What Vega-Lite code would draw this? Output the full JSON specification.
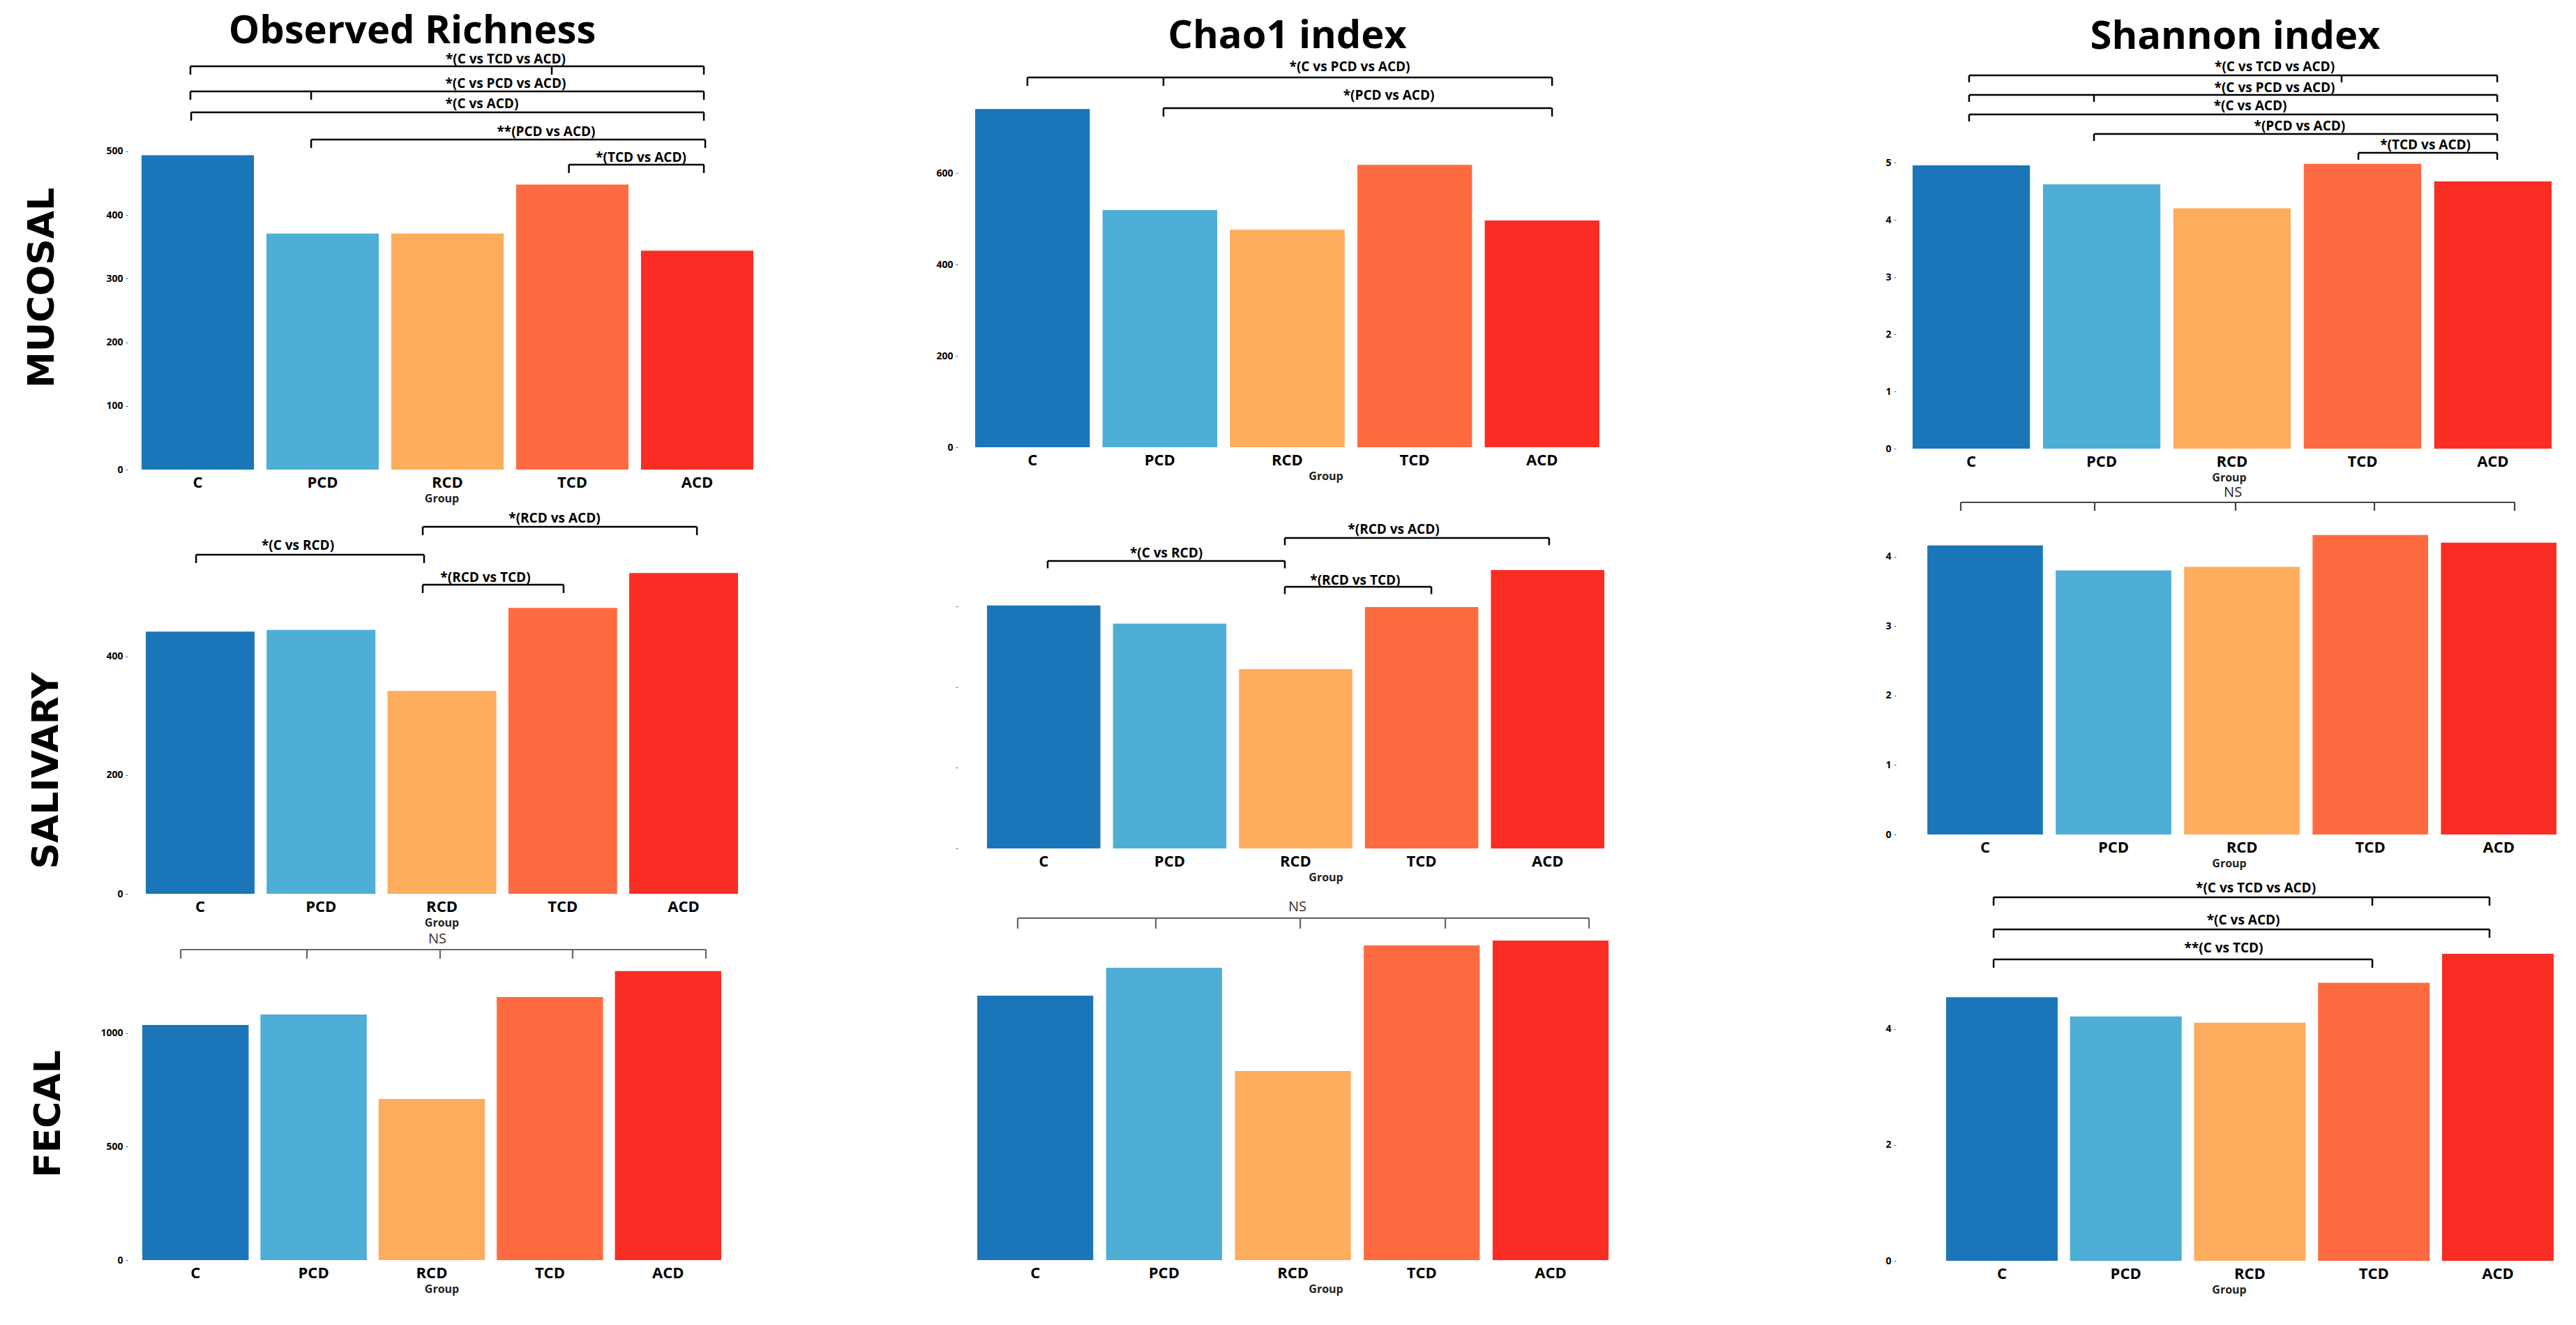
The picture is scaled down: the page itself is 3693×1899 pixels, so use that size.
{
  "$schema": "https://vega.github.io/schema/vega-lite/v6.json",
  "background": "white",
  "padding": {"left": 34, "top": 17, "right": 0, "bottom": 10},
  "columns": 3,
  "spacing": {"row": 27, "column": 290},
  "bounds": "flush",
  "align": "each",
  "config": {
    "view": {"stroke": null},
    "font": "Open Sans",
    "axis": {"grid": false, "domain": false},
    "axisX": {"ticks": false, "labelFontSize": 22, "labelFont": "Open Sans", "labelFontWeight": "bold", "labelColor": "black", "labelAngle": 0, "labelPadding": 8, "titleFont": "Open Sans", "titleFontSize": 16, "titleFontWeight": "bold", "titleColor": "#222", "titlePadding": 4},
    "axisY": {"tickSize": 3, "tickColor": "#666", "labelFontSize": 14, "labelFont": "Open Sans", "labelFontWeight": "bold", "labelColor": "black", "labelPadding": 4},
    "title": {"font": "Open Sans", "fontSize": 56, "fontWeight": "bold", "color": "black", "frame": "group", "anchor": "middle", "baseline": "alphabetic"}
  },
  "datasets": {
    "bars": [
      {"panel": "A", "group": "C", "value": 494}, {"panel": "A", "group": "PCD", "value": 371}, {"panel": "A", "group": "RCD", "value": 371}, {"panel": "A", "group": "TCD", "value": 448}, {"panel": "A", "group": "ACD", "value": 344},
      {"panel": "B", "group": "C", "value": 740}, {"panel": "B", "group": "PCD", "value": 519}, {"panel": "B", "group": "RCD", "value": 476}, {"panel": "B", "group": "TCD", "value": 618}, {"panel": "B", "group": "ACD", "value": 496},
      {"panel": "C", "group": "C", "value": 4.95}, {"panel": "C", "group": "PCD", "value": 4.62}, {"panel": "C", "group": "RCD", "value": 4.2}, {"panel": "C", "group": "TCD", "value": 4.98}, {"panel": "C", "group": "ACD", "value": 4.67},
      {"panel": "D", "group": "C", "value": 442}, {"panel": "D", "group": "PCD", "value": 445}, {"panel": "D", "group": "RCD", "value": 342}, {"panel": "D", "group": "TCD", "value": 482}, {"panel": "D", "group": "ACD", "value": 541},
      {"panel": "E", "group": "C", "value": 603}, {"panel": "E", "group": "PCD", "value": 558}, {"panel": "E", "group": "RCD", "value": 445}, {"panel": "E", "group": "TCD", "value": 599}, {"panel": "E", "group": "ACD", "value": 691},
      {"panel": "F", "group": "C", "value": 4.16}, {"panel": "F", "group": "PCD", "value": 3.8}, {"panel": "F", "group": "RCD", "value": 3.85}, {"panel": "F", "group": "TCD", "value": 4.31}, {"panel": "F", "group": "ACD", "value": 4.2},
      {"panel": "G", "group": "C", "value": 1037}, {"panel": "G", "group": "PCD", "value": 1083}, {"panel": "G", "group": "RCD", "value": 711}, {"panel": "G", "group": "TCD", "value": 1160}, {"panel": "G", "group": "ACD", "value": 1274},
      {"panel": "H", "group": "C", "value": 1307}, {"panel": "H", "group": "PCD", "value": 1445}, {"panel": "H", "group": "RCD", "value": 934}, {"panel": "H", "group": "TCD", "value": 1555}, {"panel": "H", "group": "ACD", "value": 1579},
      {"panel": "I", "group": "C", "value": 4.55}, {"panel": "I", "group": "PCD", "value": 4.22}, {"panel": "I", "group": "RCD", "value": 4.11}, {"panel": "I", "group": "TCD", "value": 4.8}, {"panel": "I", "group": "ACD", "value": 5.3}
    ],
    "brackets": [
      {"panel": "A", "label": "*(C vs TCD vs ACD)", "from": 0.941, "to": 5.053, "level": 633.8, "tx": 3.466, "ty": 644.7},
      {"panel": "A", "label": "*(C vs PCD vs ACD)", "from": 0.941, "to": 5.053, "level": 594.3, "tx": 3.466, "ty": 606.4},
      {"panel": "A", "label": "*(C vs ACD)", "from": 0.947, "to": 5.053, "level": 561.4, "tx": 3.276, "ty": 574.6},
      {"panel": "A", "label": "**(PCD vs ACD)", "from": 1.908, "to": 5.064, "level": 518.6, "tx": 3.79, "ty": 530.7},
      {"panel": "A", "label": "*(TCD vs ACD)", "from": 3.972, "to": 5.053, "level": 479.2, "tx": 4.55, "ty": 490.1},
      {"panel": "B", "label": "*(C vs PCD vs ACD)", "from": 0.96, "to": 5.078, "level": 809.2, "tx": 3.49, "ty": 832.8},
      {"panel": "B", "label": "*(PCD vs ACD)", "from": 2.028, "to": 5.078, "level": 742.0, "tx": 3.797, "ty": 769.5},
      {"panel": "C", "label": "*(C vs TCD vs ACD)", "from": 0.983, "to": 5.034, "level": 6.524, "tx": 3.327, "ty": 6.671},
      {"panel": "C", "label": "*(C vs PCD vs ACD)", "from": 0.983, "to": 5.034, "level": 6.183, "tx": 3.327, "ty": 6.305},
      {"panel": "C", "label": "*(C vs ACD)", "from": 0.983, "to": 5.034, "level": 5.841, "tx": 3.14, "ty": 5.988},
      {"panel": "C", "label": "*(PCD vs ACD)", "from": 1.941, "to": 5.034, "level": 5.5, "tx": 3.519, "ty": 5.634},
      {"panel": "C", "label": "*(TCD vs ACD)", "from": 3.969, "to": 5.034, "level": 5.171, "tx": 4.483, "ty": 5.305},
      {"panel": "D", "label": "*(RCD vs ACD)", "from": 2.841, "to": 5.109, "level": 618.8, "tx": 3.931, "ty": 632.9},
      {"panel": "D", "label": "*(C vs RCD)", "from": 0.966, "to": 2.852, "level": 571.8, "tx": 1.808, "ty": 587.1},
      {"panel": "D", "label": "*(RCD vs TCD)", "from": 2.841, "to": 4.006, "level": 521.2, "tx": 3.36, "ty": 532.9},
      {"panel": "E", "label": "*(RCD vs ACD)", "from": 2.914, "to": 5.012, "level": 770.6, "tx": 3.778, "ty": 791.3},
      {"panel": "E", "label": "*(C vs RCD)", "from": 1.031, "to": 2.914, "level": 713.4, "tx": 1.973, "ty": 732.5},
      {"panel": "E", "label": "*(RCD vs TCD)", "from": 2.914, "to": 4.077, "level": 649.4, "tx": 3.473, "ty": 664.9},
      {"panel": "F", "label": "NS", "from": 0.811, "to": 5.124, "level": 4.779, "tx": 2.93, "ty": 4.92},
      {"panel": "G", "label": "NS", "from": 0.875, "to": 5.32, "level": 1369, "tx": 3.047, "ty": 1415},
      {"panel": "H", "label": "NS", "from": 0.864, "to": 5.298, "level": 1690, "tx": 3.035, "ty": 1745},
      {"panel": "I", "label": "*(C vs TCD vs ACD)", "from": 0.933, "to": 4.932, "level": 6.277, "tx": 3.048, "ty": 6.434},
      {"panel": "I", "label": "*(C vs ACD)", "from": 0.933, "to": 4.932, "level": 5.723, "tx": 2.947, "ty": 5.88},
      {"panel": "I", "label": "**(C vs TCD)", "from": 0.933, "to": 3.987, "level": 5.205, "tx": 2.789, "ty": 5.398}
    ],
    "ticks": [
      {"panel": "A", "at": 0.941, "level": 633.8}, {"panel": "A", "at": 5.053, "level": 633.8}, {"panel": "A", "at": 3.835, "level": 633.8},
      {"panel": "A", "at": 0.941, "level": 594.3}, {"panel": "A", "at": 5.053, "level": 594.3}, {"panel": "A", "at": 1.908, "level": 594.3},
      {"panel": "A", "at": 0.947, "level": 561.4}, {"panel": "A", "at": 5.053, "level": 561.4},
      {"panel": "A", "at": 1.908, "level": 518.6}, {"panel": "A", "at": 5.064, "level": 518.6},
      {"panel": "A", "at": 3.972, "level": 479.2}, {"panel": "A", "at": 5.053, "level": 479.2},
      {"panel": "B", "at": 0.96, "level": 809.2}, {"panel": "B", "at": 5.078, "level": 809.2}, {"panel": "B", "at": 2.028, "level": 809.2},
      {"panel": "B", "at": 2.028, "level": 742.0}, {"panel": "B", "at": 5.078, "level": 742.0},
      {"panel": "C", "at": 0.983, "level": 6.524}, {"panel": "C", "at": 5.034, "level": 6.524}, {"panel": "C", "at": 3.84, "level": 6.524},
      {"panel": "C", "at": 0.983, "level": 6.183}, {"panel": "C", "at": 5.034, "level": 6.183}, {"panel": "C", "at": 1.941, "level": 6.183},
      {"panel": "C", "at": 0.983, "level": 5.841}, {"panel": "C", "at": 5.034, "level": 5.841},
      {"panel": "C", "at": 1.941, "level": 5.5}, {"panel": "C", "at": 5.034, "level": 5.5},
      {"panel": "C", "at": 3.969, "level": 5.171}, {"panel": "C", "at": 5.034, "level": 5.171},
      {"panel": "D", "at": 2.841, "level": 618.8}, {"panel": "D", "at": 5.109, "level": 618.8},
      {"panel": "D", "at": 0.966, "level": 571.8}, {"panel": "D", "at": 2.852, "level": 571.8},
      {"panel": "D", "at": 2.841, "level": 521.2}, {"panel": "D", "at": 4.006, "level": 521.2},
      {"panel": "E", "at": 2.914, "level": 770.6}, {"panel": "E", "at": 5.012, "level": 770.6},
      {"panel": "E", "at": 1.031, "level": 713.4}, {"panel": "E", "at": 2.914, "level": 713.4},
      {"panel": "E", "at": 2.914, "level": 649.4}, {"panel": "E", "at": 4.077, "level": 649.4},
      {"panel": "F", "at": 0.811, "level": 4.779}, {"panel": "F", "at": 1.854, "level": 4.779}, {"panel": "F", "at": 2.951, "level": 4.779}, {"panel": "F", "at": 4.032, "level": 4.779}, {"panel": "F", "at": 5.124, "level": 4.779},
      {"panel": "G", "at": 0.875, "level": 1369}, {"panel": "G", "at": 1.943, "level": 1369}, {"panel": "G", "at": 3.07, "level": 1369}, {"panel": "G", "at": 4.192, "level": 1369}, {"panel": "G", "at": 5.32, "level": 1369},
      {"panel": "H", "at": 0.864, "level": 1690}, {"panel": "H", "at": 1.936, "level": 1690}, {"panel": "H", "at": 3.057, "level": 1690}, {"panel": "H", "at": 4.183, "level": 1690}, {"panel": "H", "at": 5.298, "level": 1690},
      {"panel": "I", "at": 0.933, "level": 6.277}, {"panel": "I", "at": 4.932, "level": 6.277}, {"panel": "I", "at": 3.987, "level": 6.277},
      {"panel": "I", "at": 0.933, "level": 5.723}, {"panel": "I", "at": 4.932, "level": 5.723},
      {"panel": "I", "at": 0.933, "level": 5.205}, {"panel": "I", "at": 3.987, "level": 5.205}
    ]
  },
  "concat": [
    {
      "width": 900, "height": 593,
      "title": {"text": "Observed Richness", "dx": -42, "offset": 2},
      "resolve": {"scale": {"x": "independent"}, "axis": {"x": "independent", "y": "independent"}},
      "layer": [
        {"data": {"name": "bars"}, "transform": [{"filter": "datum.panel === 'A'"}], "mark": {"type": "bar"},
         "encoding": {
           "x": {"field": "group", "type": "nominal", "sort": ["C", "PCD", "RCD", "TCD", "ACD"], "scale": {"paddingInner": 0.1, "paddingOuter": 0.064, "align": 0.87}, "axis": {"title": "Group"}},
           "y": {"field": "value", "type": "quantitative", "scale": {"domain": [0, 650.2], "nice": false}, "axis": {"values": [0, 100, 200, 300, 400, 500], "title": "MUCOSAL", "titleFont": "DejaVu Sans", "titleFontSize": 52, "titleFontWeight": "bold", "titleColor": "black", "titleAngle": 270, "titleAlign": "center", "titleBaseline": "middle", "titleX": -123, "titleY": 332}},
           "color": {"field": "group", "type": "nominal", "scale": {"domain": ["C", "PCD", "RCD", "TCD", "ACD"], "range": ["#1a76b9", "#4eaed5", "#feac5d", "#fe6b40", "#f92d24"]}, "legend": null}
         }},
        {"data": {"name": "brackets"}, "transform": [{"filter": "datum.panel === 'A'"}], "mark": {"type": "rule", "color": "black", "strokeWidth": 2.5},
         "encoding": {
           "x": {"field": "from", "type": "quantitative", "scale": {"domain": [0.4383, 5.466], "nice": false, "zero": false}, "axis": null},
           "x2": {"field": "to"},
           "y": {"field": "level", "type": "quantitative", "scale": {"domain": [0, 650.2], "nice": false}, "axis": null}
         }},
        {"data": {"name": "ticks"}, "transform": [{"filter": "datum.panel === 'A'"}], "mark": {"type": "point", "shape": "M0,0L0,2", "size": 144, "filled": false, "color": "black", "strokeWidth": 2.5, "opacity": 1},
         "encoding": {
           "x": {"field": "at", "type": "quantitative", "scale": {"domain": [0.4383, 5.466], "nice": false, "zero": false}, "axis": null},
           "y": {"field": "level", "type": "quantitative", "scale": {"domain": [0, 650.2], "nice": false}, "axis": null}
         }},
        {"data": {"name": "brackets"}, "transform": [{"filter": "datum.panel === 'A'"}], "mark": {"type": "text", "font": "Open Sans", "fontWeight": "bold", "fontSize": 19, "color": "black", "baseline": "middle", "align": "center"},
         "encoding": {
           "x": {"field": "tx", "type": "quantitative", "scale": {"domain": [0.4383, 5.466], "nice": false, "zero": false}, "axis": null},
           "y": {"field": "ty", "type": "quantitative", "scale": {"domain": [0, 650.2], "nice": false}, "axis": null},
           "text": {"field": "label"}
         }}
      ]
    },
    {
      "width": 1055, "height": 561,
      "title": {"text": "Chao1 index", "dx": -55, "offset": -1},
      "resolve": {"scale": {"x": "independent"}, "axis": {"x": "independent", "y": "independent"}},
      "layer": [
        {"data": {"name": "bars"}, "transform": [{"filter": "datum.panel === 'B'"}], "mark": {"type": "bar"},
         "encoding": {
           "x": {"field": "group", "type": "nominal", "sort": ["C", "PCD", "RCD", "TCD", "ACD"], "scale": {"paddingInner": 0.1, "paddingOuter": 0.438, "align": 0.156}, "axis": {"title": "Group"}},
           "y": {"field": "value", "type": "quantitative", "scale": {"domain": [0, 856.5], "nice": false}, "axis": {"values": [0, 200, 400, 600], "title": null}},
           "color": {"field": "group", "type": "nominal", "scale": {"domain": ["C", "PCD", "RCD", "TCD", "ACD"], "range": ["#1a76b9", "#4eaed5", "#feac5d", "#fe6b40", "#f92d24"]}, "legend": null}
         }},
        {"data": {"name": "brackets"}, "transform": [{"filter": "datum.panel === 'B'"}], "mark": {"type": "rule", "color": "black", "strokeWidth": 2.5},
         "encoding": {
           "x": {"field": "from", "type": "quantitative", "scale": {"domain": [0.413, 6.189], "nice": false, "zero": false}, "axis": null},
           "x2": {"field": "to"},
           "y": {"field": "level", "type": "quantitative", "scale": {"domain": [0, 856.5], "nice": false}, "axis": null}
         }},
        {"data": {"name": "ticks"}, "transform": [{"filter": "datum.panel === 'B'"}], "mark": {"type": "point", "shape": "M0,0L0,2", "size": 144, "filled": false, "color": "black", "strokeWidth": 2.5, "opacity": 1},
         "encoding": {
           "x": {"field": "at", "type": "quantitative", "scale": {"domain": [0.413, 6.189], "nice": false, "zero": false}, "axis": null},
           "y": {"field": "level", "type": "quantitative", "scale": {"domain": [0, 856.5], "nice": false}, "axis": null}
         }},
        {"data": {"name": "brackets"}, "transform": [{"filter": "datum.panel === 'B'"}], "mark": {"type": "text", "font": "Open Sans", "fontWeight": "bold", "fontSize": 19, "color": "black", "baseline": "middle", "align": "center"},
         "encoding": {
           "x": {"field": "tx", "type": "quantitative", "scale": {"domain": [0.413, 6.189], "nice": false, "zero": false}, "axis": null},
           "y": {"field": "ty", "type": "quantitative", "scale": {"domain": [0, 856.5], "nice": false}, "axis": null},
           "text": {"field": "label"}
         }}
      ]
    },
    {
      "width": 955, "height": 563,
      "title": {"text": "Shannon index", "dx": 9, "offset": -2},
      "resolve": {"scale": {"x": "independent"}, "axis": {"x": "independent", "y": "independent"}},
      "layer": [
        {"data": {"name": "bars"}, "transform": [{"filter": "datum.panel === 'C'"}], "mark": {"type": "bar"},
         "encoding": {
           "x": {"field": "group", "type": "nominal", "sort": ["C", "PCD", "RCD", "TCD", "ACD"], "scale": {"paddingInner": 0.1, "paddingOuter": 0.104, "align": 0.615}, "axis": {"title": "Group"}},
           "y": {"field": "value", "type": "quantitative", "scale": {"domain": [0, 6.866], "nice": false}, "axis": {"values": [0, 1, 2, 3, 4, 5], "title": null}},
           "color": {"field": "group", "type": "nominal", "scale": {"domain": ["C", "PCD", "RCD", "TCD", "ACD"], "range": ["#1a76b9", "#4eaed5", "#feac5d", "#fe6b40", "#f92d24"]}, "legend": null}
         }},
        {"data": {"name": "brackets"}, "transform": [{"filter": "datum.panel === 'C'"}], "mark": {"type": "rule", "color": "black", "strokeWidth": 2.5},
         "encoding": {
           "x": {"field": "from", "type": "quantitative", "scale": {"domain": [0.4216, 5.531], "nice": false, "zero": false}, "axis": null},
           "x2": {"field": "to"},
           "y": {"field": "level", "type": "quantitative", "scale": {"domain": [0, 6.866], "nice": false}, "axis": null}
         }},
        {"data": {"name": "ticks"}, "transform": [{"filter": "datum.panel === 'C'"}], "mark": {"type": "point", "shape": "M0,0L0,2", "size": 100, "filled": false, "color": "black", "strokeWidth": 2.5, "opacity": 1},
         "encoding": {
           "x": {"field": "at", "type": "quantitative", "scale": {"domain": [0.4216, 5.531], "nice": false, "zero": false}, "axis": null},
           "y": {"field": "level", "type": "quantitative", "scale": {"domain": [0, 6.866], "nice": false}, "axis": null}
         }},
        {"data": {"name": "brackets"}, "transform": [{"filter": "datum.panel === 'C'"}], "mark": {"type": "text", "font": "Open Sans", "fontWeight": "bold", "fontSize": 19, "color": "black", "baseline": "middle", "align": "center"},
         "encoding": {
           "x": {"field": "tx", "type": "quantitative", "scale": {"domain": [0.4216, 5.531], "nice": false, "zero": false}, "axis": null},
           "y": {"field": "ty", "type": "quantitative", "scale": {"domain": [0, 6.866], "nice": false}, "axis": null},
           "text": {"field": "label"}
         }}
      ]
    },
    {
      "width": 900, "height": 581,
      "resolve": {"scale": {"x": "independent"}, "axis": {"x": "independent", "y": "independent"}},
      "layer": [
        {"data": {"name": "bars"}, "transform": [{"filter": "datum.panel === 'D'"}], "mark": {"type": "bar"},
         "encoding": {
           "x": {"field": "group", "type": "nominal", "sort": ["C", "PCD", "RCD", "TCD", "ACD"], "scale": {"paddingInner": 0.1, "paddingOuter": 0.147, "align": 0.51}, "axis": {"title": "Group"}},
           "y": {"field": "value", "type": "quantitative", "scale": {"domain": [0, 683.5], "nice": false}, "axis": {"values": [0, 200, 400], "title": "SALIVARY", "titleFont": "DejaVu Sans", "titleFontSize": 52, "titleFontWeight": "bold", "titleColor": "black", "titleAngle": 270, "titleAlign": "center", "titleBaseline": "middle", "titleX": -117, "titleY": 404}},
           "color": {"field": "group", "type": "nominal", "scale": {"domain": ["C", "PCD", "RCD", "TCD", "ACD"], "range": ["#1a76b9", "#4eaed5", "#feac5d", "#fe6b40", "#f92d24"]}, "legend": null}
         }},
        {"data": {"name": "brackets"}, "transform": [{"filter": "datum.panel === 'D'"}], "mark": {"type": "rule", "color": "black", "strokeWidth": 2.5},
         "encoding": {
           "x": {"field": "from", "type": "quantitative", "scale": {"domain": [0.4, 5.593], "nice": false, "zero": false}, "axis": null},
           "x2": {"field": "to"},
           "y": {"field": "level", "type": "quantitative", "scale": {"domain": [0, 683.5], "nice": false}, "axis": null}
         }},
        {"data": {"name": "ticks"}, "transform": [{"filter": "datum.panel === 'D'"}], "mark": {"type": "point", "shape": "M0,0L0,2", "size": 144, "filled": false, "color": "black", "strokeWidth": 2.5, "opacity": 1},
         "encoding": {
           "x": {"field": "at", "type": "quantitative", "scale": {"domain": [0.4, 5.593], "nice": false, "zero": false}, "axis": null},
           "y": {"field": "level", "type": "quantitative", "scale": {"domain": [0, 683.5], "nice": false}, "axis": null}
         }},
        {"data": {"name": "brackets"}, "transform": [{"filter": "datum.panel === 'D'"}], "mark": {"type": "text", "font": "Open Sans", "fontWeight": "bold", "fontSize": 19, "color": "black", "baseline": "middle", "align": "center"},
         "encoding": {
           "x": {"field": "tx", "type": "quantitative", "scale": {"domain": [0.4, 5.593], "nice": false, "zero": false}, "axis": null},
           "y": {"field": "ty", "type": "quantitative", "scale": {"domain": [0, 683.5], "nice": false}, "axis": null},
           "text": {"field": "label"}
         }}
      ]
    },
    {
      "width": 1055, "height": 516,
      "resolve": {"scale": {"x": "independent"}, "axis": {"x": "independent", "y": "independent"}},
      "layer": [
        {"data": {"name": "bars"}, "transform": [{"filter": "datum.panel === 'E'"}], "mark": {"type": "bar"},
         "encoding": {
           "x": {"field": "group", "type": "nominal", "sort": ["C", "PCD", "RCD", "TCD", "ACD"], "scale": {"paddingInner": 0.1, "paddingOuter": 0.4707, "align": 0.247}, "axis": {"title": "Group"}},
           "y": {"field": "value", "type": "quantitative", "scale": {"domain": [0, 893.5], "nice": false}, "axis": {"values": [0, 200, 400, 600], "labels": false, "title": null}},
           "color": {"field": "group", "type": "nominal", "scale": {"domain": ["C", "PCD", "RCD", "TCD", "ACD"], "range": ["#1a76b9", "#4eaed5", "#feac5d", "#fe6b40", "#f92d24"]}, "legend": null}
         }},
        {"data": {"name": "brackets"}, "transform": [{"filter": "datum.panel === 'E'"}], "mark": {"type": "rule", "color": "black", "strokeWidth": 2.5},
         "encoding": {
           "x": {"field": "from", "type": "quantitative", "scale": {"domain": [0.317, 6.159], "nice": false, "zero": false}, "axis": null},
           "x2": {"field": "to"},
           "y": {"field": "level", "type": "quantitative", "scale": {"domain": [0, 893.5], "nice": false}, "axis": null}
         }},
        {"data": {"name": "ticks"}, "transform": [{"filter": "datum.panel === 'E'"}], "mark": {"type": "point", "shape": "M0,0L0,2", "size": 110, "filled": false, "color": "black", "strokeWidth": 2.5, "opacity": 1},
         "encoding": {
           "x": {"field": "at", "type": "quantitative", "scale": {"domain": [0.317, 6.159], "nice": false, "zero": false}, "axis": null},
           "y": {"field": "level", "type": "quantitative", "scale": {"domain": [0, 893.5], "nice": false}, "axis": null}
         }},
        {"data": {"name": "brackets"}, "transform": [{"filter": "datum.panel === 'E'"}], "mark": {"type": "text", "font": "Open Sans", "fontWeight": "bold", "fontSize": 19, "color": "black", "baseline": "middle", "align": "center"},
         "encoding": {
           "x": {"field": "tx", "type": "quantitative", "scale": {"domain": [0.317, 6.159], "nice": false, "zero": false}, "axis": null},
           "y": {"field": "ty", "type": "quantitative", "scale": {"domain": [0, 893.5], "nice": false}, "axis": null},
           "text": {"field": "label"}
         }}
      ]
    },
    {
      "width": 955, "height": 496,
      "resolve": {"scale": {"x": "independent"}, "axis": {"x": "independent", "y": "independent"}},
      "layer": [
        {"data": {"name": "bars"}, "transform": [{"filter": "datum.panel === 'F'"}], "mark": {"type": "bar"},
         "encoding": {
           "x": {"field": "group", "type": "nominal", "sort": ["C", "PCD", "RCD", "TCD", "ACD"], "scale": {"paddingInner": 0.1, "paddingOuter": 0.144, "align": 0.85}, "axis": {"title": "Group"}},
           "y": {"field": "value", "type": "quantitative", "scale": {"domain": [0, 4.98], "nice": false}, "axis": {"values": [0, 1, 2, 3, 4], "title": null}},
           "color": {"field": "group", "type": "nominal", "scale": {"domain": ["C", "PCD", "RCD", "TCD", "ACD"], "range": ["#1a76b9", "#4eaed5", "#feac5d", "#fe6b40", "#f92d24"]}, "legend": null}
         }},
        {"data": {"name": "brackets"}, "transform": [{"filter": "datum.panel === 'F'"}], "mark": {"type": "rule", "color": "#444", "strokeWidth": 2.2},
         "encoding": {
           "x": {"field": "from", "type": "quantitative", "scale": {"domain": [0.306, 5.493], "nice": false, "zero": false}, "axis": null},
           "x2": {"field": "to"},
           "y": {"field": "level", "type": "quantitative", "scale": {"domain": [0, 4.98], "nice": false}, "axis": null}
         }},
        {"data": {"name": "ticks"}, "transform": [{"filter": "datum.panel === 'F'"}], "mark": {"type": "point", "shape": "M0,0L0,2", "size": 144, "filled": false, "color": "#444", "strokeWidth": 2.2, "opacity": 1},
         "encoding": {
           "x": {"field": "at", "type": "quantitative", "scale": {"domain": [0.306, 5.493], "nice": false, "zero": false}, "axis": null},
           "y": {"field": "level", "type": "quantitative", "scale": {"domain": [0, 4.98], "nice": false}, "axis": null}
         }},
        {"data": {"name": "brackets"}, "transform": [{"filter": "datum.panel === 'F'"}], "mark": {"type": "text", "font": "Open Sans", "fontWeight": "normal", "fontSize": 20, "color": "#222", "baseline": "middle", "align": "center"},
         "encoding": {
           "x": {"field": "tx", "type": "quantitative", "scale": {"domain": [0.306, 5.493], "nice": false, "zero": false}, "axis": null},
           "y": {"field": "ty", "type": "quantitative", "scale": {"domain": [0, 4.98], "nice": false}, "axis": null},
           "text": {"field": "label"}
         }}
      ]
    },
    {
      "width": 900, "height": 498,
      "resolve": {"scale": {"x": "independent"}, "axis": {"x": "independent", "y": "independent"}},
      "layer": [
        {"data": {"name": "bars"}, "transform": [{"filter": "datum.panel === 'G'"}], "mark": {"type": "bar"},
         "encoding": {
           "x": {"field": "group", "type": "nominal", "sort": ["C", "PCD", "RCD", "TCD", "ACD"], "scale": {"paddingInner": 0.1, "paddingOuter": 0.2066, "align": 0.3}, "axis": {"title": "Group"}},
           "y": {"field": "value", "type": "quantitative", "scale": {"domain": [0, 1532], "nice": false}, "axis": {"values": [0, 500, 1000], "format": "d", "title": "FECAL", "titleFont": "DejaVu Sans", "titleFontSize": 52, "titleFontWeight": "bold", "titleColor": "black", "titleAngle": 270, "titleAlign": "center", "titleBaseline": "middle", "titleX": -114, "titleY": 288}},
           "color": {"field": "group", "type": "nominal", "scale": {"domain": ["C", "PCD", "RCD", "TCD", "ACD"], "range": ["#1a76b9", "#4eaed5", "#feac5d", "#fe6b40", "#f92d24"]}, "legend": null}
         }},
        {"data": {"name": "brackets"}, "transform": [{"filter": "datum.panel === 'G'"}], "mark": {"type": "rule", "color": "#666", "strokeWidth": 2.2},
         "encoding": {
           "x": {"field": "from", "type": "quantitative", "scale": {"domain": [0.426, 5.739], "nice": false, "zero": false}, "axis": null},
           "x2": {"field": "to"},
           "y": {"field": "level", "type": "quantitative", "scale": {"domain": [0, 1532], "nice": false}, "axis": null}
         }},
        {"data": {"name": "ticks"}, "transform": [{"filter": "datum.panel === 'G'"}], "mark": {"type": "point", "shape": "M0,0L0,2", "size": 169, "filled": false, "color": "#666", "strokeWidth": 2.2, "opacity": 1},
         "encoding": {
           "x": {"field": "at", "type": "quantitative", "scale": {"domain": [0.426, 5.739], "nice": false, "zero": false}, "axis": null},
           "y": {"field": "level", "type": "quantitative", "scale": {"domain": [0, 1532], "nice": false}, "axis": null}
         }},
        {"data": {"name": "brackets"}, "transform": [{"filter": "datum.panel === 'G'"}], "mark": {"type": "text", "font": "Open Sans", "fontWeight": "normal", "fontSize": 20, "color": "#333", "baseline": "middle", "align": "center"},
         "encoding": {
           "x": {"field": "tx", "type": "quantitative", "scale": {"domain": [0.426, 5.739], "nice": false, "zero": false}, "axis": null},
           "y": {"field": "ty", "type": "quantitative", "scale": {"domain": [0, 1532], "nice": false}, "axis": null},
           "text": {"field": "label"}
         }}
      ]
    },
    {
      "width": 1055, "height": 498,
      "resolve": {"scale": {"x": "independent"}, "axis": {"x": "independent", "y": "independent"}},
      "layer": [
        {"data": {"name": "bars"}, "transform": [{"filter": "datum.panel === 'H'"}], "mark": {"type": "bar"},
         "encoding": {
           "x": {"field": "group", "type": "nominal", "sort": ["C", "PCD", "RCD", "TCD", "ACD"], "scale": {"paddingInner": 0.1, "paddingOuter": 0.406, "align": 0.187}, "axis": {"title": "Group"}},
           "y": {"field": "value", "type": "quantitative", "scale": {"domain": [0, 1717], "nice": false}, "axis": null},
           "color": {"field": "group", "type": "nominal", "scale": {"domain": ["C", "PCD", "RCD", "TCD", "ACD"], "range": ["#1a76b9", "#4eaed5", "#feac5d", "#fe6b40", "#f92d24"]}, "legend": null}
         }},
        {"data": {"name": "brackets"}, "transform": [{"filter": "datum.panel === 'H'"}], "mark": {"type": "rule", "color": "#666", "strokeWidth": 2.2},
         "encoding": {
           "x": {"field": "from", "type": "quantitative", "scale": {"domain": [0.3985, 6.11], "nice": false, "zero": false}, "axis": null},
           "x2": {"field": "to"},
           "y": {"field": "level", "type": "quantitative", "scale": {"domain": [0, 1717], "nice": false}, "axis": null}
         }},
        {"data": {"name": "ticks"}, "transform": [{"filter": "datum.panel === 'H'"}], "mark": {"type": "point", "shape": "M0,0L0,2", "size": 225, "filled": false, "color": "#666", "strokeWidth": 2.2, "opacity": 1},
         "encoding": {
           "x": {"field": "at", "type": "quantitative", "scale": {"domain": [0.3985, 6.11], "nice": false, "zero": false}, "axis": null},
           "y": {"field": "level", "type": "quantitative", "scale": {"domain": [0, 1717], "nice": false}, "axis": null}
         }},
        {"data": {"name": "brackets"}, "transform": [{"filter": "datum.panel === 'H'"}], "mark": {"type": "text", "font": "Open Sans", "fontWeight": "normal", "fontSize": 20, "color": "#333", "baseline": "middle", "align": "center"},
         "encoding": {
           "x": {"field": "tx", "type": "quantitative", "scale": {"domain": [0.3985, 6.11], "nice": false, "zero": false}, "axis": null},
           "y": {"field": "ty", "type": "quantitative", "scale": {"domain": [0, 1717], "nice": false}, "axis": null},
           "text": {"field": "label"}
         }}
      ]
    },
    {
      "width": 955, "height": 499,
      "resolve": {"scale": {"x": "independent"}, "axis": {"x": "independent", "y": "independent"}},
      "layer": [
        {"data": {"name": "bars"}, "transform": [{"filter": "datum.panel === 'I'"}], "mark": {"type": "bar"},
         "encoding": {
           "x": {"field": "group", "type": "nominal", "sort": ["C", "PCD", "RCD", "TCD", "ACD"], "scale": {"paddingInner": 0.1, "paddingOuter": 0.236, "align": 0.857}, "axis": {"title": "Group"}},
           "y": {"field": "value", "type": "quantitative", "scale": {"domain": [0, 6.012], "nice": false}, "axis": {"values": [0, 2, 4], "title": null}},
           "color": {"field": "group", "type": "nominal", "scale": {"domain": ["C", "PCD", "RCD", "TCD", "ACD"], "range": ["#1a76b9", "#4eaed5", "#feac5d", "#fe6b40", "#f92d24"]}, "legend": null}
         }},
        {"data": {"name": "brackets"}, "transform": [{"filter": "datum.panel === 'I'"}], "mark": {"type": "rule", "color": "black", "strokeWidth": 2.5},
         "encoding": {
           "x": {"field": "from", "type": "quantitative", "scale": {"domain": [0.145, 5.517], "nice": false, "zero": false}, "axis": null},
           "x2": {"field": "to"},
           "y": {"field": "level", "type": "quantitative", "scale": {"domain": [0, 6.012], "nice": false}, "axis": null}
         }},
        {"data": {"name": "ticks"}, "transform": [{"filter": "datum.panel === 'I'"}], "mark": {"type": "point", "shape": "M0,0L0,2", "size": 144, "filled": false, "color": "black", "strokeWidth": 2.5, "opacity": 1},
         "encoding": {
           "x": {"field": "at", "type": "quantitative", "scale": {"domain": [0.145, 5.517], "nice": false, "zero": false}, "axis": null},
           "y": {"field": "level", "type": "quantitative", "scale": {"domain": [0, 6.012], "nice": false}, "axis": null}
         }},
        {"data": {"name": "brackets"}, "transform": [{"filter": "datum.panel === 'I'"}], "mark": {"type": "text", "font": "Open Sans", "fontWeight": "bold", "fontSize": 19, "color": "black", "baseline": "middle", "align": "center"},
         "encoding": {
           "x": {"field": "tx", "type": "quantitative", "scale": {"domain": [0.145, 5.517], "nice": false, "zero": false}, "axis": null},
           "y": {"field": "ty", "type": "quantitative", "scale": {"domain": [0, 6.012], "nice": false}, "axis": null},
           "text": {"field": "label"}
         }}
      ]
    }
  ]
}
